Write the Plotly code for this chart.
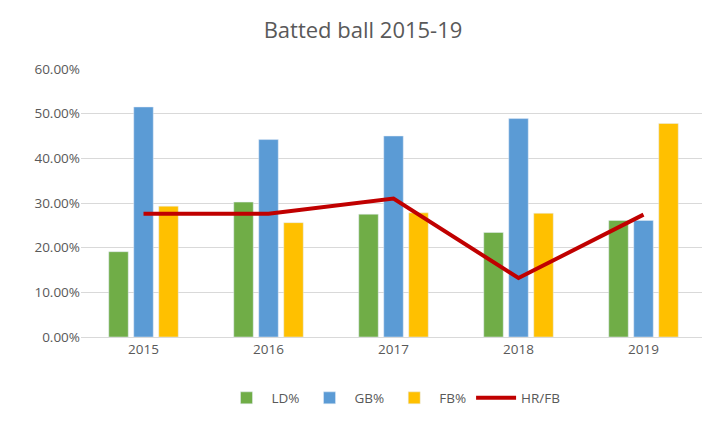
import plotly.graph_objects as go

years = ["2015", "2016", "2017", "2018", "2019"]
ld = [0.191, 0.302, 0.275, 0.234, 0.261]
gb = [0.515, 0.442, 0.450, 0.489, 0.261]
fb = [0.293, 0.256, 0.278, 0.277, 0.478]
hr_fb = [0.276, 0.276, 0.310, 0.132, 0.274]

fig = go.Figure()
fig.add_trace(go.Bar(x=years, y=ld, name="LD%", marker_color="#70AD47"))
fig.add_trace(go.Bar(x=years, y=gb, name="GB%", marker_color="#5B9BD5"))
fig.add_trace(go.Bar(x=years, y=fb, name="FB%", marker_color="#FFC000"))
fig.add_trace(go.Scatter(x=years, y=hr_fb, name="HR/FB", mode="lines",
                         line=dict(color="#C00000", width=4)))

fig.update_layout(
    width=710, height=426,
    title=dict(text="Batted ball 2015-19", x=0.5, y=0.965,
               font=dict(size=22, color="#595959")),
    font=dict(family="Open Sans", size=13.5, color="#595959"),
    plot_bgcolor="white", paper_bgcolor="white",
    margin=dict(l=73, r=12, t=61, b=97),
    barmode="group", bargap=0.4, bargroupgap=0.22,
    legend=dict(orientation="h", x=0.5, xanchor="center", y=-0.17,
                font=dict(size=13.5), itemwidth=40),
    xaxis=dict(showline=True, linecolor="#D9D9D9", ticks=""),
    yaxis=dict(range=[0, 0.6], dtick=0.1, tickformat=".2%",
               gridcolor="#D9D9D9", zeroline=False),
)
fig.write_html("out.html")
